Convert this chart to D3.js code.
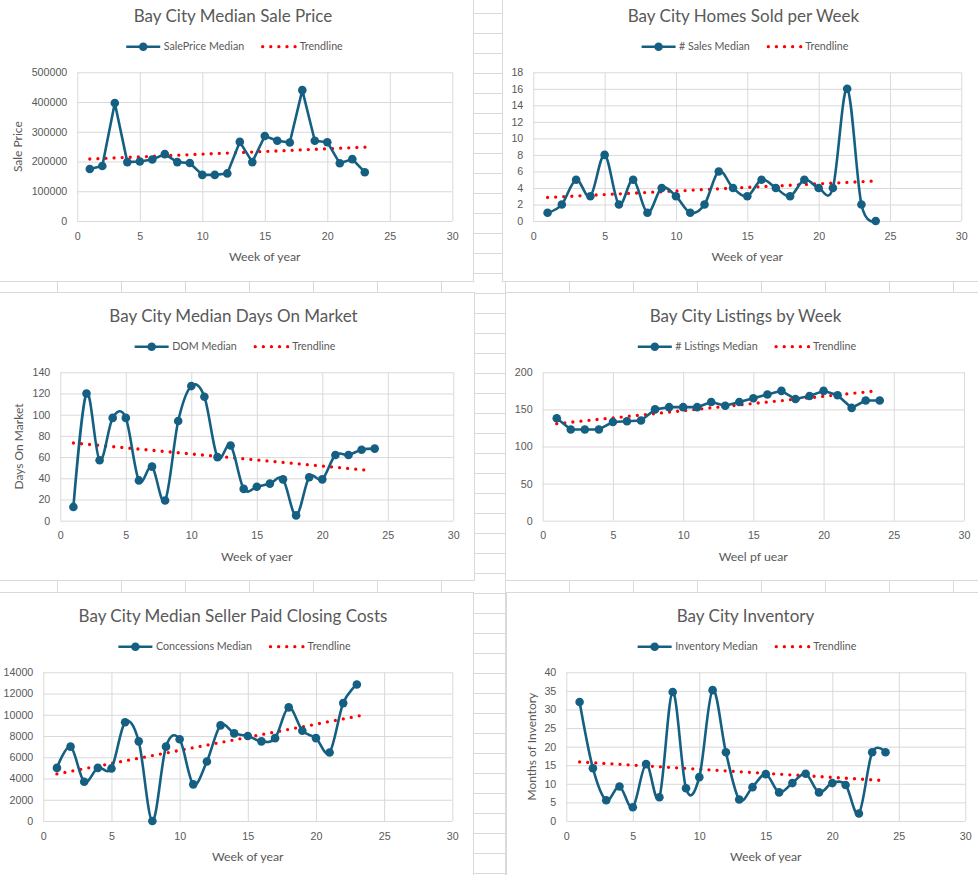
<!DOCTYPE html>
<html>
<head>
<meta charset="utf-8">
<script src="https://cdn.jsdelivr.net/npm/d3@7"></script>
<style>
  html, body { margin: 0; padding: 0; background: #fff; }
  svg { display: block; }
</style>
</head>
<body>
<div id="sheet"></div>
<script>
// week numbers on the x axis
const weeks = [1, 2, 3, 4, 5, 6, 7, 8, 9, 10, 11, 12, 13, 14, 15, 16, 17, 18, 19, 20, 21, 22, 23, 24];

// series values
const salePrice = [175000, 185000, 397000, 198000, 200000, 207000, 225000, 198000, 195000, 155000, 155000, 160000,
    266000, 198000, 286000, 270000, 264000, 440000, 270000, 265000, 194000, 208000, 164000];
const homesSold = [1, 2, 5, 3, 8, 2, 5, 1, 4, 3, 1, 2, 6, 4, 3, 5, 4, 3, 5, 4, 4, 16, 2, 0];
const daysOnMarket = [13, 120, 57, 97, 97, 38, 51, 19, 94, 127, 117, 60, 71, 30, 32, 35, 39, 5, 41, 39, 62, 62, 67, 68];
const listings = [138, 123, 123, 123, 133, 134, 135, 150, 153, 153, 153, 160, 155, 160, 165, 170, 175, 164, 168, 175, 169, 152, 162, 162];
const concessions = [5000, 7000, 3700, 5000, 4950, 9300, 7500, 0, 7000, 7700, 3450, 5600, 9000, 8250, 8000, 7500,
    7800, 10700, 8500, 7800, 6450, 11100, 12850];
const inventory = [32, 14.2, 5.6, 9.3, 3.7, 15.3, 6.4, 34.7, 8.8, 11.8, 35.2, 18.5, 5.8, 9.1, 12.6, 7.7, 10.2, 12.7,
    7.7, 10.2, 9.7, 2, 18.5, 18.5];

// trendline end points [week, value]
const saleTrend = [[1, 208500], [23.4, 249000]];
const soldTrend = [[1, 2.85], [24, 4.85]];
const domTrend = [[1, 73.3], [23.5, 47.5]];
const listTrend = [[1, 130.8], [23.7, 174.8]];
const concTrend = [[1, 4430], [23.5, 9980]];
const invTrend = [[1, 15.9], [23.8, 10.9]];

// tick labels
const xTicks = [0, 5, 10, 15, 20, 25, 30];
const saleTicks = [0, 100000, 200000, 300000, 400000, 500000];
const soldTicks = [0, 2, 4, 6, 8, 10, 12, 14, 16, 18];
const domTicks = [0, 20, 40, 60, 80, 100, 120, 140];
const listTicks = [0, 50, 100, 150, 200];
const concTicks = [0, 2000, 4000, 6000, 8000, 10000, 12000, 14000];
const invTicks = [0, 5, 10, 15, 20, 25, 30, 35, 40];

const blue = "#156082";
const textCol = "#595959";
const gridCol = "#d9d9d9";

const W = 978, H = 875;

const svg = d3.select("#sheet")
    .append("svg")
    .attr("width", W)
    .attr("height", H);

svg.append("rect").attr("width", W).attr("height", H).attr("fill", "#fff");

// spreadsheet cells behind the charts
const sheetGrid = svg.append("g").attr("stroke", "#dadada").attr("stroke-width", 1);
for (let x = 57.5; x < W; x += 64) {
    sheetGrid.append("line").attr("x1", x).attr("x2", x).attr("y1", 0).attr("y2", H);
}
for (let y = 13.5; y < H; y += 20) {
    sheetGrid.append("line").attr("x1", 0).attr("x2", W).attr("y1", y).attr("y2", y);
}

const charts = [
    { title: "Bay City Median Sale Price", name: "SalePrice Median", values: salePrice, trend: saleTrend,
      yTicks: saleTicks, yTitle: "Sale Price", yTitleX: 18, xTitle: "Week of year", smooth: false,
      box: [-6, -8, 473.5, 281.5], cx: 234.5, plot: { left: 77.3, right: 452.3, top: 72.3, bottom: 221 } },
    { title: "Bay City Homes Sold per Week", name: "# Sales Median", values: homesSold, trend: soldTrend,
      yTicks: soldTicks, yTitle: null, xTitle: "Week of year", smooth: true,
      box: [502.5, -8, 985, 281.5], cx: 745, plot: { left: 533.3, right: 961.3, top: 72.3, bottom: 221 } },
    { title: "Bay City Median Days On Market", name: "DOM Median", values: daysOnMarket, trend: domTrend,
      yTicks: domTicks, yTitle: "Days On Market", yTitleX: 19, xTitle: "Week of yaer", smooth: true,
      box: [-6, 292.5, 474.5, 580.5], cx: 235, plot: { left: 60.3, right: 453.3, top: 372.3, bottom: 520.7 } },
    { title: "Bay City Listings by Week", name: "# Listings Median", values: listings, trend: listTrend,
      yTicks: listTicks, yTitle: null, xTitle: "Weel pf uear", smooth: false,
      box: [505.5, 292.5, 985, 580.5], cx: 747, plot: { left: 542.7, right: 964, top: 372.3, bottom: 520.7 } },
    { title: "Bay City Median Seller Paid Closing Costs", name: "Concessions Median", values: concessions, trend: concTrend,
      yTicks: concTicks, yTitle: null, xTitle: "Week of year", smooth: true,
      box: [-6, 592.5, 473.5, 890], cx: 234.5, plot: { left: 43.3, right: 452.3, top: 672.3, bottom: 821 } },
    { title: "Bay City Inventory", name: "Inventory Median", values: inventory, trend: invTrend,
      yTicks: invTicks, yTitle: "Months of Inventory", yTitleX: 531.7, xTitle: "Week of year", smooth: true,
      box: [506.5, 592.5, 985, 890], cx: 747, plot: { left: 566.3, right: 965.3, top: 672.3, bottom: 821 } }
];

charts.forEach(drawChart);

function drawChart(c) {
    const p = c.plot;
    const g = svg.append("g");

    // chart area
    g.append("rect")
        .attr("x", c.box[0]).attr("y", c.box[1])
        .attr("width", c.box[2] - c.box[0]).attr("height", c.box[3] - c.box[1])
        .attr("fill", "#fff")
        .attr("stroke", gridCol);

    const x = d3.scaleLinear().domain([0, 30]).range([p.left, p.right]);
    const y = d3.scaleLinear().domain([0, d3.max(c.yTicks)]).range([p.bottom, p.top]);

    // Y axis + horizontal gridlines
    const yAxis = g.append("g")
        .attr("transform", `translate(${p.left},0)`)
        .call(d3.axisLeft(y).tickValues(c.yTicks).tickFormat(d3.format("d"))
            .tickSize(-(p.right - p.left)).tickPadding(10));
    yAxis.select(".domain").remove();

    // X axis + vertical gridlines
    const xAxis = g.append("g")
        .attr("transform", `translate(0,${p.bottom})`)
        .call(d3.axisBottom(x).tickValues(xTicks).tickFormat(d3.format("d"))
            .tickSize(-(p.bottom - p.top)).tickPadding(11));
    xAxis.select(".domain").remove();

    g.selectAll(".tick line").attr("stroke", gridCol).attr("stroke-width", 1);
    g.selectAll(".tick text")
        .attr("fill", textCol)
        .style("font-family", "'Liberation Sans', Arial, sans-serif")
        .style("font-size", "10.7px");

    // trendline
    g.append("path")
        .datum(c.trend)
        .attr("d", d3.line().x(d => x(d[0])).y(d => y(d[1])))
        .attr("fill", "none")
        .attr("stroke", "#ff0000")
        .attr("stroke-width", 3.3)
        .attr("stroke-linecap", "round")
        .attr("stroke-dasharray", "0 8.1");

    // series
    const pts = c.values.map((v, i) => [weeks[i], v]);
    g.append("path")
        .datum(pts)
        .attr("d", d3.line()
            .x(d => x(d[0])).y(d => y(d[1]))
            .curve(c.smooth ? d3.curveCardinal.tension(0) : d3.curveLinear))
        .attr("fill", "none")
        .attr("stroke", blue)
        .attr("stroke-width", 2.6)
        .attr("stroke-linejoin", "round");

    g.selectAll(".dot")
        .data(pts)
        .enter()
        .append("circle")
        .attr("cx", d => x(d[0]))
        .attr("cy", d => y(d[1]))
        .attr("r", 4.3)
        .attr("fill", blue);

    // title
    g.append("text")
        .attr("x", c.cx - 1.5)
        .attr("y", p.top - 56.5)
        .attr("dy", "0.35em")
        .attr("text-anchor", "middle")
        .attr("fill", textCol)
        .style("font-family", "Lato, sans-serif")
        .style("font-size", "17px")
        .text(c.title);

    // axis titles
    g.append("text")
        .attr("x", (p.left + p.right) / 2)
        .attr("y", p.bottom + 36)
        .attr("dy", "0.35em")
        .attr("text-anchor", "middle")
        .attr("fill", textCol)
        .style("font-family", "Lato, sans-serif")
        .style("font-size", "12.3px")
        .text(c.xTitle);

    if (c.yTitle) {
        g.append("text")
            .attr("transform", `translate(${c.yTitleX},${(p.top + p.bottom) / 2}) rotate(-90)`)
            .attr("dy", "0.35em")
            .attr("text-anchor", "middle")
            .attr("fill", textCol)
            .style("font-family", "Lato, sans-serif")
            .style("font-size", "12px")
            .text(c.yTitle);
    }

    legend(g, c.cx, p.top - 25.6, c.name);
}

function legend(g, cx, cy, name) {
    const lg = g.append("g");
    const font = sel => sel.attr("fill", textCol)
        .attr("dy", "0.35em")
        .style("font-family", "Lato, sans-serif")
        .style("font-size", "10.7px");

    lg.append("line")
        .attr("x1", 0).attr("x2", 34).attr("y1", 0).attr("y2", 0)
        .attr("stroke", blue).attr("stroke-width", 2.6);
    lg.append("circle").attr("cx", 17).attr("cy", 0).attr("r", 4.3).attr("fill", blue);
    const t1 = lg.append("text").attr("x", 37.5).attr("y", 0).call(font).text(name);
    const x2 = 37.5 + t1.node().getComputedTextLength() + 17;

    lg.append("line")
        .attr("x1", x2 + 1.5).attr("x2", x2 + 35).attr("y1", 0).attr("y2", 0)
        .attr("stroke", "#ff0000").attr("stroke-width", 3.3)
        .attr("stroke-linecap", "round").attr("stroke-dasharray", "0 8.1");
    const t2 = lg.append("text").attr("x", x2 + 38.5).attr("y", 0).call(font).text("Trendline");
    const total = x2 + 38.5 + t2.node().getComputedTextLength();

    lg.attr("transform", `translate(${cx - total / 2},${cy})`);
}
</script>
</body>
</html>
